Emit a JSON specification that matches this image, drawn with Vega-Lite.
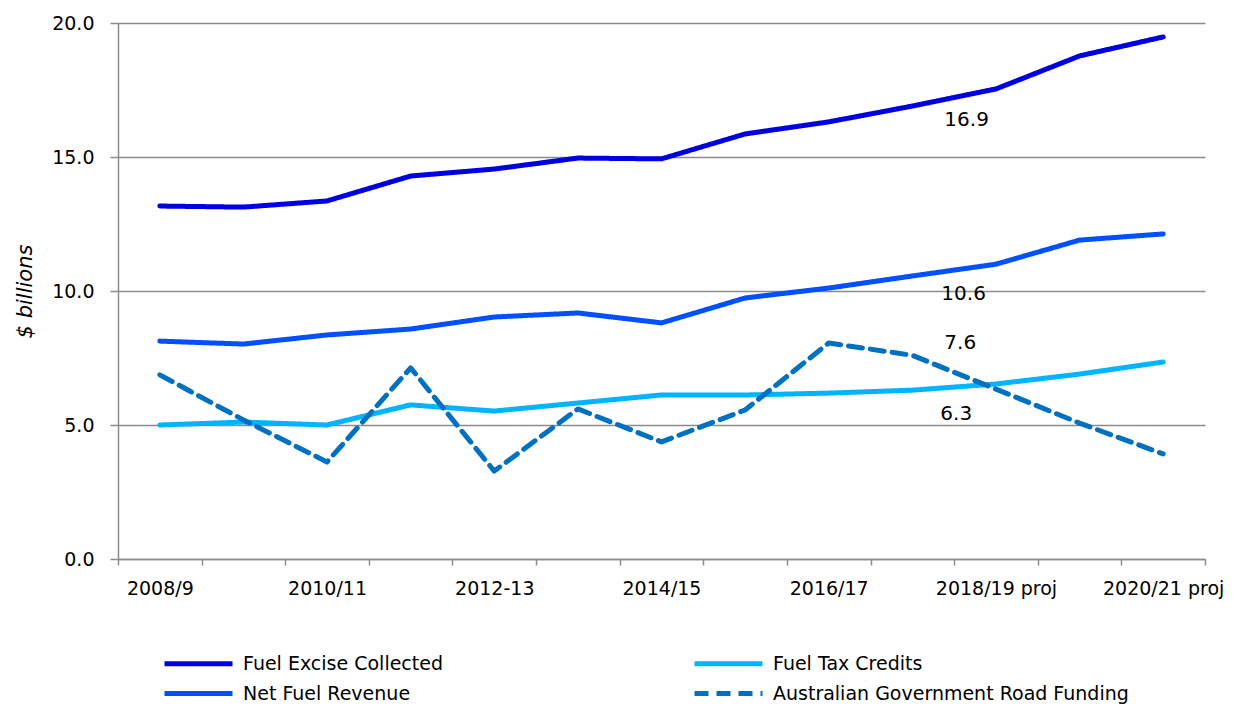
{
  "$schema": "https://vega.github.io/schema/vega-lite/v6.json",
  "width": 1087,
  "height": 536,
  "autosize": {"type": "none"},
  "padding": {"left": 118, "top": 23, "right": 31, "bottom": 148},
  "background": "white",
  "config": {
    "font": "DejaVu Sans",
    "view": {"stroke": null},
    "axis": {"labelColor": "#000000", "titleColor": "#000000", "domainColor": "#8c8c8c", "tickColor": "#8c8c8c", "gridColor": "#8c8c8c", "domainWidth": 1.5, "tickWidth": 1.5, "gridWidth": 1.5}
  },
  "datasets": {
    "series": [
      {"year": "2008/9", "series": "Fuel Excise Collected", "value": 13.17},
      {"year": "2009/10", "series": "Fuel Excise Collected", "value": 13.13},
      {"year": "2010/11", "series": "Fuel Excise Collected", "value": 13.36},
      {"year": "2011/12", "series": "Fuel Excise Collected", "value": 14.29},
      {"year": "2012-13", "series": "Fuel Excise Collected", "value": 14.55},
      {"year": "2013/14", "series": "Fuel Excise Collected", "value": 14.96},
      {"year": "2014/15", "series": "Fuel Excise Collected", "value": 14.93},
      {"year": "2015/16", "series": "Fuel Excise Collected", "value": 15.86},
      {"year": "2016/17", "series": "Fuel Excise Collected", "value": 16.31},
      {"year": "2017/18", "series": "Fuel Excise Collected", "value": 16.9},
      {"year": "2018/19 proj", "series": "Fuel Excise Collected", "value": 17.54},
      {"year": "2019/20 proj", "series": "Fuel Excise Collected", "value": 18.77},
      {"year": "2020/21 proj", "series": "Fuel Excise Collected", "value": 19.48},
      {"year": "2008/9", "series": "Net Fuel Revenue", "value": 8.13},
      {"year": "2009/10", "series": "Net Fuel Revenue", "value": 8.02},
      {"year": "2010/11", "series": "Net Fuel Revenue", "value": 8.36},
      {"year": "2011/12", "series": "Net Fuel Revenue", "value": 8.58},
      {"year": "2012-13", "series": "Net Fuel Revenue", "value": 9.03},
      {"year": "2013/14", "series": "Net Fuel Revenue", "value": 9.18},
      {"year": "2014/15", "series": "Net Fuel Revenue", "value": 8.81},
      {"year": "2015/16", "series": "Net Fuel Revenue", "value": 9.74},
      {"year": "2016/17", "series": "Net Fuel Revenue", "value": 10.11},
      {"year": "2017/18", "series": "Net Fuel Revenue", "value": 10.56},
      {"year": "2018/19 proj", "series": "Net Fuel Revenue", "value": 11.0},
      {"year": "2019/20 proj", "series": "Net Fuel Revenue", "value": 11.9},
      {"year": "2020/21 proj", "series": "Net Fuel Revenue", "value": 12.13},
      {"year": "2008/9", "series": "Fuel Tax Credits", "value": 5.0},
      {"year": "2009/10", "series": "Fuel Tax Credits", "value": 5.11},
      {"year": "2010/11", "series": "Fuel Tax Credits", "value": 5.0},
      {"year": "2011/12", "series": "Fuel Tax Credits", "value": 5.75},
      {"year": "2012-13", "series": "Fuel Tax Credits", "value": 5.52},
      {"year": "2013/14", "series": "Fuel Tax Credits", "value": 5.82},
      {"year": "2014/15", "series": "Fuel Tax Credits", "value": 6.12},
      {"year": "2015/16", "series": "Fuel Tax Credits", "value": 6.12},
      {"year": "2016/17", "series": "Fuel Tax Credits", "value": 6.19},
      {"year": "2017/18", "series": "Fuel Tax Credits", "value": 6.3},
      {"year": "2018/19 proj", "series": "Fuel Tax Credits", "value": 6.53},
      {"year": "2019/20 proj", "series": "Fuel Tax Credits", "value": 6.9},
      {"year": "2020/21 proj", "series": "Fuel Tax Credits", "value": 7.35},
      {"year": "2008/9", "series": "Australian Government Road Funding", "value": 6.87},
      {"year": "2009/10", "series": "Australian Government Road Funding", "value": 5.19},
      {"year": "2010/11", "series": "Australian Government Road Funding", "value": 3.62},
      {"year": "2011/12", "series": "Australian Government Road Funding", "value": 7.13},
      {"year": "2012-13", "series": "Australian Government Road Funding", "value": 3.28},
      {"year": "2013/14", "series": "Australian Government Road Funding", "value": 5.6},
      {"year": "2014/15", "series": "Australian Government Road Funding", "value": 4.37},
      {"year": "2015/16", "series": "Australian Government Road Funding", "value": 5.56},
      {"year": "2016/17", "series": "Australian Government Road Funding", "value": 8.06},
      {"year": "2017/18", "series": "Australian Government Road Funding", "value": 7.6},
      {"year": "2018/19 proj", "series": "Australian Government Road Funding", "value": 6.34},
      {"year": "2019/20 proj", "series": "Australian Government Road Funding", "value": 5.07},
      {"year": "2020/21 proj", "series": "Australian Government Road Funding", "value": 3.92}
    ]
  },
  "data": {"name": "series"},
  "encoding": {
    "x": {
      "field": "year", "type": "ordinal", "sort": null,
      "scale": {"type": "band", "paddingInner": 0, "paddingOuter": 0},
      "axis": {
        "title": null, "labelAngle": 0, "tickBand": "extent", "tickSize": 6, "grid": false,
        "labelFontSize": 19, "labelPadding": 14,
        "labelExpr": "indexof(['2008/9','2010/11','2012-13','2014/15','2016/17','2018/19 proj','2020/21 proj'], datum.value) >= 0 ? datum.label : ''"
      }
    },
    "y": {
      "field": "value", "type": "quantitative",
      "scale": {"domain": [0, 20], "nice": false},
      "axis": {
        "values": [0, 5, 10, 15, 20], "format": ".1f", "grid": true, "tickSize": 8,
        "labelFontSize": 19, "labelPadding": 16,
        "title": "$ billions", "titleFontStyle": "italic", "titleFontWeight": "normal", "titleFontSize": 21, "titlePadding": 16
      }
    }
  },
  "layer": [
    {
      "mark": {"type": "line", "strokeWidth": 5, "strokeCap": "round", "strokeJoin": "round"},
      "encoding": {
        "color": {
          "field": "series", "type": "nominal",
          "scale": {
            "domain": ["Fuel Excise Collected", "Fuel Tax Credits", "Net Fuel Revenue", "Australian Government Road Funding"],
            "range": ["#0000e0", "#00b4ff", "#0050ff", "#0070c0"]
          },
          "legend": {
            "title": null, "orient": "none", "legendX": 68, "legendY": 628, "columns": 2, "direction": "horizontal",
            "symbolType": "M-3.4,0H3.4", "symbolSize": 400, "symbolStrokeWidth": 5,
            "labelFontSize": 19, "labelOffset": 32, "rowPadding": 7, "columnPadding": 241, "labelLimit": 500
          }
        },
        "strokeDash": {
          "field": "series", "type": "nominal",
          "scale": {
            "domain": ["Fuel Excise Collected", "Fuel Tax Credits", "Net Fuel Revenue", "Australian Government Road Funding"],
            "range": [[1, 0], [1, 0], [1, 0], [14, 8]]
          },
          "legend": {
            "title": null, "orient": "none", "legendX": 68, "legendY": 628, "columns": 2, "direction": "horizontal",
            "symbolType": "M-3.4,0H3.4", "symbolSize": 400, "symbolStrokeWidth": 5,
            "labelFontSize": 19, "labelOffset": 32, "rowPadding": 7, "columnPadding": 241, "labelLimit": 500
          }
        }
      }
    },
    {
      "transform": [{"filter": "datum.year == '2017/18' && datum.series == 'Fuel Excise Collected'"}],
      "mark": {"type": "text", "align": "left", "baseline": "middle", "dx": 32, "dy": 14, "fontSize": 20, "color": "#000000"},
      "encoding": {"text": {"field": "value", "type": "quantitative", "format": ".1f"}}
    },
    {
      "transform": [{"filter": "datum.year == '2017/18' && datum.series == 'Net Fuel Revenue'"}],
      "mark": {"type": "text", "align": "left", "baseline": "middle", "dx": 29, "dy": 18, "fontSize": 20, "color": "#000000"},
      "encoding": {"text": {"field": "value", "type": "quantitative", "format": ".1f"}}
    },
    {
      "transform": [{"filter": "datum.year == '2017/18' && datum.series == 'Australian Government Road Funding'"}],
      "mark": {"type": "text", "align": "left", "baseline": "middle", "dx": 32, "dy": -12, "fontSize": 20, "color": "#000000"},
      "encoding": {"text": {"field": "value", "type": "quantitative", "format": ".1f"}}
    },
    {
      "transform": [{"filter": "datum.year == '2017/18' && datum.series == 'Fuel Tax Credits'"}],
      "mark": {"type": "text", "align": "left", "baseline": "middle", "dx": 28, "dy": 24, "fontSize": 20, "color": "#000000"},
      "encoding": {"text": {"field": "value", "type": "quantitative", "format": ".1f"}}
    }
  ]
}
